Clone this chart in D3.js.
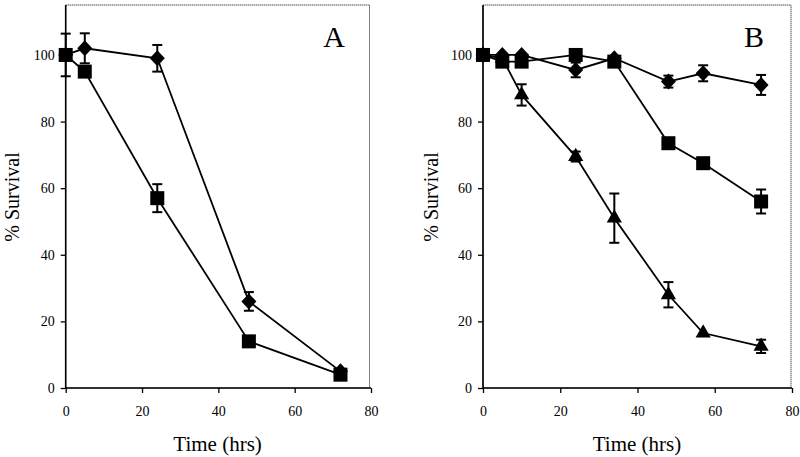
<!DOCTYPE html>
<html><head><meta charset="utf-8">
<script src="https://cdn.jsdelivr.net/npm/d3@7"></script>
<style>body{margin:0;background:#fff}svg{display:block}text{font-family:"Liberation Serif","Times New Roman",serif;fill:#000}</style>
</head><body>
<script>
// Panel A data
const timeA = [0, 5, 24, 48, 72];
const diamondA = [100, 102, 99, 26, 5];
const diamondErrA = [0, 4.5, 4, 2.8, 0];
const squareA = [100, 95, 57, 14, 4];
const squareErrA = [6.4, 0, 4.2, 0, 0];

// Panel B data
const timeB = [0, 5, 10, 24, 34, 48, 57, 72];
const diamondB = [100, 100, 100, 95.5, 99, 92, 94.5, 91];
const diamondErrB = [0, 0, 0, 2.2, 0, 1.8, 2.4, 3];
const squareB = [100, 98, 98, 100, 98, 73.5, 67.5, 56];
const squareErrB = [0, 0, 0, 0, 0, 0, 0, 3.6];
const triangleB = [100, 99, 88, 69.5, 51, 28, 16.5, 12.5];
const triangleErrB = [0, 0, 3.2, 1.5, 7.4, 3.8, 0, 2];

const xTicks = [0, 20, 40, 60, 80];
const yTicks = [0, 20, 40, 60, 80, 100];

const svg = d3.select("body").append("svg").attr("width", 800).attr("height", 457);

function markerPath(kind) {
  if (kind === "square") return d3.symbol(d3.symbolSquare, 196)();
  if (kind === "triangle") return d3.symbol(d3.symbolTriangle, 100)();
  const p = d3.path();
  p.moveTo(0, -8); p.lineTo(7.5, 0); p.lineTo(0, 8); p.lineTo(-7.5, 0); p.closePath();
  return p.toString();
}

function panel(cfg) {
  const x = d3.scaleLinear().domain([0, 80]).range([cfg.x0, cfg.x1]);
  const y = d3.scaleLinear().domain([0, 115]).range([388, 5]);
  const g = svg.append("g");

  g.append("rect").attr("x", x(0)).attr("y", y(115))
    .attr("width", cfg.boxRight - x(0)).attr("height", y(0) - y(115))
    .attr("fill", "none").attr("stroke", "#555").attr("stroke-width", 1).attr("stroke-dasharray", "1.5,0.5");

  const xa = g.append("g").attr("transform", `translate(0,${y(0)})`)
    .call(d3.axisBottom(x).tickValues(xTicks).tickSize(5).tickPadding(13).tickFormat(d3.format("d")));
  const ya = g.append("g").attr("transform", `translate(${x(0)},0)`)
    .call(d3.axisLeft(y).tickValues(yTicks).tickSize(5).tickPadding(6).tickFormat(d3.format("d")));
  [xa, ya].forEach(a => {
    a.attr("font-family", null).attr("font-size", null)
      .style("font-family", "'Liberation Serif', 'Times New Roman', serif").style("font-size", "14px");
    a.select(".domain").attr("stroke", "#000").attr("stroke-width", 1.6);
    a.selectAll(".tick line").attr("stroke", "#000").attr("stroke-width", 1.3);
    a.selectAll("text").style("font-family", "'Liberation Serif', serif").style("font-size", "14px").attr("fill", "#000");
  });
  ya.select(".domain").attr("d", `M0,${y(0)}V${y(115)}`);
  xa.select(".domain").attr("d", `M${x(0)},0H${x(80)}`);

  g.append("text").attr("x", (x(0) + cfg.boxRight) / 2).attr("y", 451)
    .attr("text-anchor", "middle").attr("font-size", 21).text("Time (hrs)");
  g.append("text").attr("transform", `translate(${cfg.ylabX},197) rotate(-90)`)
    .attr("text-anchor", "middle").attr("font-size", 20).text("% Survival");
  g.append("text").attr("x", cfg.labX).attr("y", 47)
    .attr("text-anchor", "middle").attr("font-size", 30).text(cfg.label);

  const line = d3.line().x(d => x(d.t)).y(d => y(d.v));
  cfg.series.forEach(s => {
    const pts = cfg.time.map((t, i) => ({t, v: s.values[i], e: s.err[i]}));
    s.pts = pts;
    g.append("path").datum(pts).attr("d", line).attr("fill", "none")
      .attr("stroke", "#000").attr("stroke-width", 1.8);
  });
  cfg.series.forEach(s => {
    const eb = g.append("g").selectAll("g").data(s.pts.filter(d => d.e > 0)).join("g");
    eb.append("line").attr("x1", d => x(d.t)).attr("x2", d => x(d.t))
      .attr("y1", d => y(d.v + d.e)).attr("y2", d => y(d.v - d.e)).attr("stroke", "#000").attr("stroke-width", 2);
    [1, -1].forEach(sg => eb.append("line").attr("x1", d => x(d.t) - 5).attr("x2", d => x(d.t) + 5)
      .attr("y1", d => y(d.v + sg * d.e)).attr("y2", d => y(d.v + sg * d.e)).attr("stroke", "#000").attr("stroke-width", 2));
  });
  cfg.series.forEach(s => {
    g.append("g").selectAll("path").data(s.pts).join("path")
      .attr("d", markerPath(s.kind))
      .attr("transform", d => `translate(${x(d.t)},${y(d.v)})`)
      .attr("fill", "#000");
  });
}

panel({x0: 65.7, x1: 371, boxRight: 369.5, ylabX: 19, labX: 334, label: "A", time: timeA,
  series: [
    {kind: "diamond", values: diamondA, err: diamondErrA},
    {kind: "square", values: squareA, err: squareErrA}
  ]});
panel({x0: 483, x1: 792, boxRight: 791, ylabX: 438, labX: 754, label: "B", time: timeB,
  series: [
    {kind: "triangle", values: triangleB, err: triangleErrB},
    {kind: "diamond", values: diamondB, err: diamondErrB},
    {kind: "square", values: squareB, err: squareErrB}
  ]});
</script>
</body></html>
